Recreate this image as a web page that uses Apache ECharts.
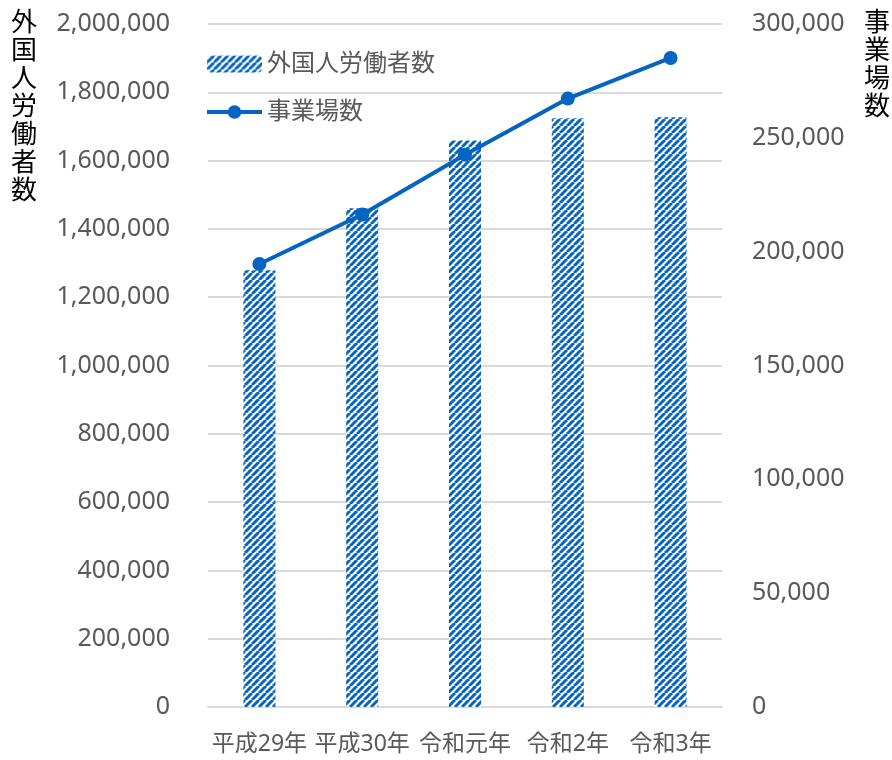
<!DOCTYPE html>
<html><head><meta charset="utf-8">
<script src="https://cdn.jsdelivr.net/npm/echarts@6/dist/echarts.min.js"></script>
<style>html,body{margin:0;padding:0;background:#fff}#c{width:892px;height:760px}</style>
</head><body><div id="c"></div>
<script>
const categories = ['平成29年','平成30年','令和元年','令和2年','令和3年'];
const workers = [1278670, 1460463, 1658804, 1724328, 1727221];
const establishments = [194595, 216348, 242608, 267243, 285080];
const seriesNames = ['外国人労働者数','事業場数'];
const leftTitle = '外国人労働者数';
const rightTitle = '事業場数';

const BLUE = '#0563C1';
function hatch(){
  const s = 7, c = document.createElement('canvas');
  c.width = s; c.height = s;
  const g = c.getContext('2d');
  g.fillStyle = '#fff'; g.fillRect(0,0,s,s);
  g.strokeStyle = BLUE; g.lineWidth = 3;
  for (let k=-1;k<=1;k++){ g.beginPath(); g.moveTo(k*s, s); g.lineTo(k*s+s, 0); g.stroke(); }
  return c;
}
const pat = {image: hatch(), repeat: 'repeat'};
const FONT = "'Noto Sans','Noto Sans CJK JP',sans-serif";
const chart = echarts.init(document.getElementById('c'));
chart.setOption({
  animation: false,
  grid: {left: 208, right: 170, top: 24, bottom: 53},
  legend: {
    orient: 'vertical', left: 200, top: 47, itemGap: 24,
    itemWidth: 55, itemHeight: 17,
    textStyle: {fontFamily: FONT, fontSize: 24, color: '#595959'},
    data: [
      {name: seriesNames[0]},
      {name: seriesNames[1], lineStyle: {width: 4, color: BLUE}}
    ]
  },
  xAxis: {
    type: 'category', data: categories,
    axisLine: {show: true, lineStyle: {color: '#d9d9d9', width: 2}},
    axisTick: {show: false},
    axisLabel: {fontFamily: FONT, fontSize: 23, color: '#595959', margin: 26, interval: 0}
  },
  yAxis: [{
    type: 'value', min: 0, max: 2000000, interval: 200000,
    axisLabel: {fontFamily: FONT, fontSize: 25, color: '#595959', margin: 38,
      formatter: v => v.toLocaleString('en-US')},
    splitLine: {lineStyle: {color: '#d9d9d9', width: 2}},
    axisLine: {show: false}, axisTick: {show: false}
  },{
    type: 'value', min: 0, max: 300000, interval: 50000,
    axisLabel: {fontFamily: FONT, fontSize: 25, color: '#595959', margin: 30,
      formatter: v => v.toLocaleString('en-US')},
    splitLine: {show: false}, axisLine: {show: false}, axisTick: {show: false}
  }],
  graphic: [
    {type: 'text', left: 11, top: 7, style: {text: leftTitle.split('').join('\n'),
      font: "26px 'Noto Sans CJK JP'", fill: '#000', lineHeight: 28}},
    {type: 'text', left: 864, top: 7, style: {text: rightTitle.split('').join('\n'),
      font: "26px 'Noto Sans CJK JP'", fill: '#000', lineHeight: 28}}
  ],
  series: [{
    name: seriesNames[0], type: 'bar', data: workers, barWidth: 32,
    itemStyle: {color: pat}
  },{
    name: seriesNames[1], type: 'line', yAxisIndex: 1, data: establishments,
    symbol: 'circle', symbolSize: 14,
    lineStyle: {color: BLUE, width: 4}, itemStyle: {color: BLUE}
  }]
});
</script></body></html>
